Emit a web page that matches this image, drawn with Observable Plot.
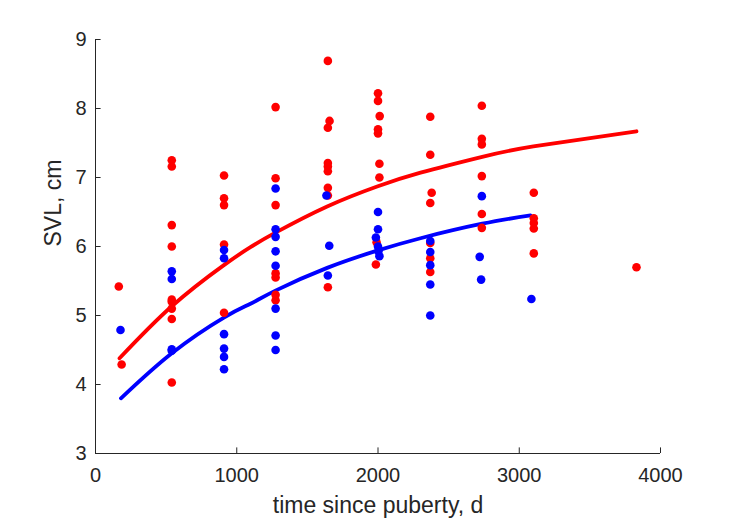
<!DOCTYPE html>
<html>
<head>
<meta charset="utf-8">
<script src="https://cdn.jsdelivr.net/npm/d3@7"></script>
<script src="https://cdn.jsdelivr.net/npm/@observablehq/plot@0.6"></script>
<style>
  html, body { margin: 0; padding: 0; background: #fff; }
  #chart { width: 729px; height: 521px; }
</style>
</head>
<body>
<div id="chart"></div>
<script>
// Tick values
const xTicks = [0, 1000, 2000, 3000, 4000];
const yTicks = [3, 4, 5, 6, 7, 8, 9];
const xLabel = "time since puberty, d";
const yLabel = "SVL, cm";

// Red observations
const redX = [
  165, 185,
  540, 540, 540, 540, 540, 540, 540, 540, 540,
  910, 910, 910, 910, 910,
  1275, 1275, 1275, 1275, 1275, 1275, 1275,
  1645, 1657, 1645, 1645, 1645, 1645, 1645, 1645, 1645,
  2000, 2000, 2012, 2000, 2000, 2010, 2010, 1990, 1985,
  2370, 2370, 2380, 2370, 2370, 2370, 2370,
  2735, 2735, 2735, 2735, 2735, 2735,
  3103, 3103, 3103, 3103, 3103,
  3830
];
const redY = [
  5.42, 4.29,
  7.25, 7.16, 6.31, 6.00, 5.23, 5.20, 5.10, 4.95, 4.03,
  7.03, 6.70, 6.60, 6.03, 5.04,
  8.02, 6.99, 6.60, 5.61, 5.55, 5.30, 5.22,
  8.69, 7.82, 7.72, 7.21, 7.16, 7.09, 6.85, 6.74, 5.41,
  8.22, 8.11, 7.89, 7.70, 7.64, 7.20, 7.00, 6.06, 5.74,
  7.88, 7.33, 6.78, 6.63, 6.05, 5.83, 5.63,
  8.04, 7.56, 7.48, 7.02, 6.47, 6.27,
  6.78, 6.41, 6.34, 6.26, 5.90,
  5.70
];

// Blue observations
const blueX = [
  177,
  540, 540, 540, 540,
  910, 910, 910, 910, 910, 910,
  1275, 1275, 1275, 1275, 1275, 1275, 1275, 1275,
  1635, 1655, 1645,
  2000, 2000, 1985, 2000, 2003, 2010,
  2370, 2370, 2370, 2370, 2370,
  2735, 2720, 2730,
  3086
];
const blueY = [
  4.79,
  5.64, 5.53, 4.51, 4.49,
  5.95, 5.83, 4.73, 4.52, 4.40, 4.22,
  6.84, 6.25, 6.14, 5.93, 5.72, 5.10, 4.71, 4.50,
  6.74, 6.01, 5.58,
  6.50, 6.25, 6.13, 6.00, 5.93, 5.86,
  6.08, 5.92, 5.73, 5.45, 5.00,
  6.73, 5.85, 5.52,
  5.24
];

// Fitted growth curves
const redCurveX = [170, 538, 909, 1097, 1274, 1640, 1994, 2301, 2738, 3100, 3830];
const redCurveY = [4.38, 5.13, 5.73, 5.99, 6.20, 6.58, 6.87, 7.07, 7.30, 7.45, 7.67];
const blueCurveX = [180, 538, 909, 1097, 1274, 1640, 1994, 2301, 2738, 3080];
const blueCurveY = [3.80, 4.45, 4.97, 5.17, 5.36, 5.69, 5.94, 6.12, 6.33, 6.45];

const toRows = (xs, ys) => xs.map((x, i) => ({x, y: ys[i]}));
const redPts = toRows(redX, redY);
const bluePts = toRows(blueX, blueY);
const redCurve = toRows(redCurveX, redCurveY);
const blueCurve = toRows(blueCurveX, blueCurveY);

const axisColor = "#262626";
const W = 729, H = 521, mL = 95, mR = 69, mT = 39, mB = 68;
const plotW = W - mL - mR, plotH = H - mT - mB;
const tickLen = 5.6;

const chart = Plot.plot({
  width: W, height: H,
  marginLeft: mL, marginRight: mR, marginTop: mT, marginBottom: mB,
  x: {domain: [0, 4000]},
  y: {domain: [3, 9]},
  style: {fontFamily: "'Liberation Sans', Arial, Helvetica, sans-serif", color: axisColor, background: "#fff", overflow: "visible"},
  marks: [
    Plot.axisX(xTicks, {tickSize: 0, tickPadding: 14, fontSize: 20, tickFormat: d3.format("d"), label: null, fill: axisColor}),
    Plot.axisY(yTicks, {tickSize: 0, tickPadding: 9, fontSize: 20, tickFormat: d3.format("d"), label: null, fill: axisColor}),
    Plot.ruleX([0], {stroke: axisColor, strokeWidth: 1}),
    Plot.ruleY([3], {stroke: axisColor, strokeWidth: 1}),
    Plot.tickX(xTicks, {x: d => d, stroke: axisColor, strokeWidth: 1, insetTop: plotH - tickLen}),
    Plot.tickY(yTicks, {y: d => d, stroke: axisColor, strokeWidth: 1, insetRight: plotW - tickLen}),
    Plot.text([xLabel], {frameAnchor: "bottom", dy: 59, fontSize: 23, fill: axisColor, text: d => d}),
    Plot.text([yLabel], {frameAnchor: "left", dx: -42, rotate: -90, fontSize: 23, fill: axisColor, text: d => d}),
    Plot.line(redCurve, {x: "x", y: "y", stroke: "#ff0000", strokeWidth: 3.8, curve: "natural"}),
    Plot.line(blueCurve, {x: "x", y: "y", stroke: "#0000ff", strokeWidth: 3.8, curve: "natural"}),
    Plot.dot(redPts, {x: "x", y: "y", r: 4.3, fill: "#ff0000", stroke: null}),
    Plot.dot(bluePts, {x: "x", y: "y", r: 4.3, fill: "#0000ff", stroke: null})
  ]
});
document.getElementById("chart").appendChild(chart);
</script>
</body>
</html>
